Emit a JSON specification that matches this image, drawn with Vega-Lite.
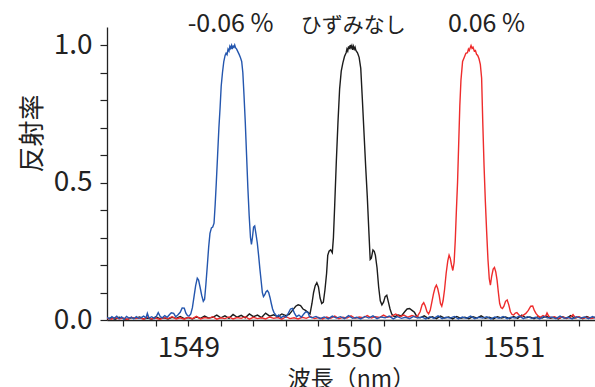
{
"$schema": "https://vega.github.io/schema/vega-lite/v6.json",
"width": 488, "height": 293,
"autosize": {"type": "none"},
"padding": {"left": 107, "top": 27, "right": 0, "bottom": 67},
"background": "white",
"config": {"view": {"stroke": null}, "font": "Noto Sans CJK JP"},
"resolve": {"axis": {"x": "independent", "y": "independent"}},
"datasets": {
"labels": [
{"label": "-0.06 %", "x": 1549.26, "y": 1.047},
{"label": "ひずみなし", "x": 1550.014, "y": 1.047},
{"label": "0.06 %", "x": 1550.833, "y": 1.047}
],
"spectra": [
{"s":"k","x":1548.500,"y":0.004},{"s":"k","x":1548.525,"y":0.008},{"s":"k","x":1548.550,"y":0.003},{"s":"k","x":1548.575,"y":0.010},
{"s":"k","x":1548.600,"y":0.005},{"s":"k","x":1548.625,"y":0.002},{"s":"k","x":1548.650,"y":0.009},{"s":"k","x":1548.675,"y":0.006},
{"s":"k","x":1548.700,"y":0.011},{"s":"k","x":1548.725,"y":0.004},{"s":"k","x":1548.750,"y":0.007},{"s":"k","x":1548.775,"y":0.003},
{"s":"k","x":1548.800,"y":0.012},{"s":"k","x":1548.825,"y":0.005},{"s":"k","x":1548.850,"y":0.008},{"s":"k","x":1548.875,"y":0.004},
{"s":"k","x":1548.900,"y":0.010},{"s":"k","x":1548.925,"y":0.006},{"s":"k","x":1548.950,"y":0.013},{"s":"k","x":1548.975,"y":0.005},
{"s":"k","x":1549.000,"y":0.009},{"s":"k","x":1549.025,"y":0.004},{"s":"k","x":1549.050,"y":0.011},{"s":"k","x":1549.075,"y":0.006},
{"s":"k","x":1549.100,"y":0.014},{"s":"k","x":1549.125,"y":0.007},{"s":"k","x":1549.150,"y":0.010},{"s":"k","x":1549.175,"y":0.018},
{"s":"k","x":1549.200,"y":0.008},{"s":"k","x":1549.225,"y":0.015},{"s":"k","x":1549.250,"y":0.006},{"s":"k","x":1549.275,"y":0.020},
{"s":"k","x":1549.300,"y":0.010},{"s":"k","x":1549.325,"y":0.017},{"s":"k","x":1549.350,"y":0.008},{"s":"k","x":1549.375,"y":0.022},
{"s":"k","x":1549.400,"y":0.012},{"s":"k","x":1549.425,"y":0.018},{"s":"k","x":1549.450,"y":0.009},{"s":"k","x":1549.475,"y":0.025},
{"s":"k","x":1549.500,"y":0.014},{"s":"k","x":1549.525,"y":0.019},{"s":"k","x":1549.550,"y":0.012},{"s":"k","x":1549.575,"y":0.022},
{"s":"k","x":1549.600,"y":0.016},{"s":"k","x":1549.620,"y":0.020},{"s":"k","x":1549.640,"y":0.035},{"s":"k","x":1549.660,"y":0.050},
{"s":"k","x":1549.675,"y":0.055},{"s":"k","x":1549.690,"y":0.052},{"s":"k","x":1549.705,"y":0.040},{"s":"k","x":1549.720,"y":0.035},
{"s":"k","x":1549.735,"y":0.028},{"s":"k","x":1549.748,"y":0.022},{"s":"k","x":1549.760,"y":0.060},{"s":"k","x":1549.770,"y":0.100},
{"s":"k","x":1549.780,"y":0.125},{"s":"k","x":1549.790,"y":0.136},{"s":"k","x":1549.800,"y":0.120},{"s":"k","x":1549.810,"y":0.080},
{"s":"k","x":1549.820,"y":0.060},{"s":"k","x":1549.830,"y":0.065},{"s":"k","x":1549.840,"y":0.110},{"s":"k","x":1549.850,"y":0.170},
{"s":"k","x":1549.857,"y":0.235},{"s":"k","x":1549.865,"y":0.250},{"s":"k","x":1549.875,"y":0.255},{"s":"k","x":1549.885,"y":0.245},
{"s":"k","x":1549.892,"y":0.300},{"s":"k","x":1549.900,"y":0.420},{"s":"k","x":1549.910,"y":0.580},{"s":"k","x":1549.920,"y":0.720},
{"s":"k","x":1549.930,"y":0.840},{"s":"k","x":1549.940,"y":0.905},{"s":"k","x":1549.950,"y":0.935},{"s":"k","x":1549.960,"y":0.958},
{"s":"k","x":1549.970,"y":0.972},{"s":"k","x":1549.975,"y":0.985},{"s":"k","x":1549.980,"y":0.978},{"s":"k","x":1549.985,"y":0.995},
{"s":"k","x":1549.990,"y":0.985},{"s":"k","x":1549.995,"y":1.000},{"s":"k","x":1550.000,"y":0.990},{"s":"k","x":1550.005,"y":0.998},
{"s":"k","x":1550.010,"y":0.982},{"s":"k","x":1550.015,"y":0.995},{"s":"k","x":1550.020,"y":0.985},{"s":"k","x":1550.025,"y":0.992},
{"s":"k","x":1550.030,"y":0.980},{"s":"k","x":1550.040,"y":0.972},{"s":"k","x":1550.050,"y":0.955},{"s":"k","x":1550.055,"y":0.935},
{"s":"k","x":1550.060,"y":0.915},{"s":"k","x":1550.070,"y":0.800},{"s":"k","x":1550.080,"y":0.680},{"s":"k","x":1550.090,"y":0.560},
{"s":"k","x":1550.100,"y":0.450},{"s":"k","x":1550.110,"y":0.320},{"s":"k","x":1550.118,"y":0.220},{"s":"k","x":1550.125,"y":0.225},
{"s":"k","x":1550.135,"y":0.255},{"s":"k","x":1550.143,"y":0.250},{"s":"k","x":1550.150,"y":0.235},{"s":"k","x":1550.160,"y":0.190},
{"s":"k","x":1550.170,"y":0.120},{"s":"k","x":1550.180,"y":0.070},{"s":"k","x":1550.190,"y":0.055},{"s":"k","x":1550.200,"y":0.065},
{"s":"k","x":1550.210,"y":0.085},{"s":"k","x":1550.220,"y":0.090},{"s":"k","x":1550.230,"y":0.065},{"s":"k","x":1550.240,"y":0.040},
{"s":"k","x":1550.250,"y":0.022},{"s":"k","x":1550.260,"y":0.015},{"s":"k","x":1550.270,"y":0.012},{"s":"k","x":1550.290,"y":0.018},
{"s":"k","x":1550.310,"y":0.015},{"s":"k","x":1550.330,"y":0.030},{"s":"k","x":1550.345,"y":0.040},{"s":"k","x":1550.360,"y":0.042},
{"s":"k","x":1550.375,"y":0.035},{"s":"k","x":1550.390,"y":0.028},{"s":"k","x":1550.405,"y":0.012},{"s":"k","x":1550.425,"y":0.008},
{"s":"k","x":1550.450,"y":0.015},{"s":"k","x":1550.475,"y":0.006},{"s":"k","x":1550.500,"y":0.012},{"s":"k","x":1550.525,"y":0.005},
{"s":"k","x":1550.550,"y":0.014},{"s":"k","x":1550.575,"y":0.007},{"s":"k","x":1550.600,"y":0.011},{"s":"k","x":1550.625,"y":0.004},
{"s":"k","x":1550.650,"y":0.013},{"s":"k","x":1550.675,"y":0.006},{"s":"k","x":1550.700,"y":0.010},{"s":"k","x":1550.725,"y":0.005},
{"s":"k","x":1550.750,"y":0.012},{"s":"k","x":1550.775,"y":0.007},{"s":"k","x":1550.800,"y":0.015},{"s":"k","x":1550.825,"y":0.006},
{"s":"k","x":1550.850,"y":0.010},{"s":"k","x":1550.875,"y":0.004},{"s":"k","x":1550.900,"y":0.012},{"s":"k","x":1550.925,"y":0.007},
{"s":"k","x":1550.950,"y":0.011},{"s":"k","x":1550.975,"y":0.005},{"s":"k","x":1551.000,"y":0.013},{"s":"k","x":1551.025,"y":0.006},
{"s":"k","x":1551.050,"y":0.018},{"s":"k","x":1551.075,"y":0.008},{"s":"k","x":1551.100,"y":0.011},{"s":"k","x":1551.125,"y":0.005},
{"s":"k","x":1551.150,"y":0.012},{"s":"k","x":1551.175,"y":0.007},{"s":"k","x":1551.200,"y":0.014},{"s":"k","x":1551.225,"y":0.006},
{"s":"k","x":1551.250,"y":0.010},{"s":"k","x":1551.275,"y":0.004},{"s":"k","x":1551.300,"y":0.012},{"s":"k","x":1551.325,"y":0.006},
{"s":"k","x":1551.350,"y":0.016},{"s":"k","x":1551.375,"y":0.007},{"s":"k","x":1551.400,"y":0.011},{"s":"k","x":1551.425,"y":0.005},
{"s":"k","x":1551.450,"y":0.013},{"s":"k","x":1551.475,"y":0.006},{"s":"k","x":1551.500,"y":0.010},

{"s":"r","x":1548.500,"y":0.006},{"s":"r","x":1548.525,"y":0.003},{"s":"r","x":1548.550,"y":0.009},{"s":"r","x":1548.575,"y":0.004},
{"s":"r","x":1548.600,"y":0.007},{"s":"r","x":1548.625,"y":0.002},{"s":"r","x":1548.650,"y":0.010},{"s":"r","x":1548.675,"y":0.005},
{"s":"r","x":1548.700,"y":0.008},{"s":"r","x":1548.725,"y":0.003},{"s":"r","x":1548.750,"y":0.011},{"s":"r","x":1548.775,"y":0.004},
{"s":"r","x":1548.800,"y":0.007},{"s":"r","x":1548.825,"y":0.002},{"s":"r","x":1548.850,"y":0.009},{"s":"r","x":1548.875,"y":0.005},
{"s":"r","x":1548.900,"y":0.012},{"s":"r","x":1548.925,"y":0.004},{"s":"r","x":1548.950,"y":0.008},{"s":"r","x":1548.975,"y":0.003},
{"s":"r","x":1549.000,"y":0.010},{"s":"r","x":1549.025,"y":0.005},{"s":"r","x":1549.050,"y":0.013},{"s":"r","x":1549.075,"y":0.004},
{"s":"r","x":1549.100,"y":0.009},{"s":"r","x":1549.125,"y":0.006},{"s":"r","x":1549.150,"y":0.012},{"s":"r","x":1549.175,"y":0.003},
{"s":"r","x":1549.200,"y":0.008},{"s":"r","x":1549.225,"y":0.005},{"s":"r","x":1549.250,"y":0.011},{"s":"r","x":1549.275,"y":0.004},
{"s":"r","x":1549.300,"y":0.009},{"s":"r","x":1549.325,"y":0.006},{"s":"r","x":1549.350,"y":0.012},{"s":"r","x":1549.375,"y":0.003},
{"s":"r","x":1549.400,"y":0.010},{"s":"r","x":1549.425,"y":0.005},{"s":"r","x":1549.450,"y":0.008},{"s":"r","x":1549.475,"y":0.004},
{"s":"r","x":1549.500,"y":0.011},{"s":"r","x":1549.525,"y":0.006},{"s":"r","x":1549.550,"y":0.009},{"s":"r","x":1549.575,"y":0.003},
{"s":"r","x":1549.600,"y":0.012},{"s":"r","x":1549.625,"y":0.005},{"s":"r","x":1549.650,"y":0.008},{"s":"r","x":1549.675,"y":0.004},
{"s":"r","x":1549.700,"y":0.010},{"s":"r","x":1549.725,"y":0.006},{"s":"r","x":1549.750,"y":0.013},{"s":"r","x":1549.775,"y":0.005},
{"s":"r","x":1549.800,"y":0.009},{"s":"r","x":1549.825,"y":0.004},{"s":"r","x":1549.850,"y":0.011},{"s":"r","x":1549.875,"y":0.006},
{"s":"r","x":1549.900,"y":0.014},{"s":"r","x":1549.925,"y":0.005},{"s":"r","x":1549.950,"y":0.010},{"s":"r","x":1549.975,"y":0.007},
{"s":"r","x":1550.000,"y":0.015},{"s":"r","x":1550.025,"y":0.006},{"s":"r","x":1550.050,"y":0.011},{"s":"r","x":1550.075,"y":0.008},
{"s":"r","x":1550.100,"y":0.016},{"s":"r","x":1550.125,"y":0.007},{"s":"r","x":1550.150,"y":0.012},{"s":"r","x":1550.175,"y":0.009},
{"s":"r","x":1550.200,"y":0.018},{"s":"r","x":1550.225,"y":0.010},{"s":"r","x":1550.250,"y":0.014},{"s":"r","x":1550.275,"y":0.022},
{"s":"r","x":1550.300,"y":0.012},{"s":"r","x":1550.325,"y":0.018},{"s":"r","x":1550.350,"y":0.010},{"s":"r","x":1550.375,"y":0.016},
{"s":"r","x":1550.395,"y":0.012},{"s":"r","x":1550.410,"y":0.015},{"s":"r","x":1550.425,"y":0.030},{"s":"r","x":1550.437,"y":0.055},
{"s":"r","x":1550.447,"y":0.063},{"s":"r","x":1550.457,"y":0.050},{"s":"r","x":1550.467,"y":0.030},{"s":"r","x":1550.477,"y":0.022},
{"s":"r","x":1550.487,"y":0.035},{"s":"r","x":1550.497,"y":0.065},{"s":"r","x":1550.507,"y":0.095},{"s":"r","x":1550.517,"y":0.118},
{"s":"r","x":1550.525,"y":0.127},{"s":"r","x":1550.533,"y":0.115},{"s":"r","x":1550.542,"y":0.090},{"s":"r","x":1550.550,"y":0.060},
{"s":"r","x":1550.558,"y":0.050},{"s":"r","x":1550.566,"y":0.070},{"s":"r","x":1550.575,"y":0.110},{"s":"r","x":1550.585,"y":0.170},
{"s":"r","x":1550.595,"y":0.215},{"s":"r","x":1550.603,"y":0.236},{"s":"r","x":1550.610,"y":0.225},{"s":"r","x":1550.618,"y":0.200},
{"s":"r","x":1550.626,"y":0.180},{"s":"r","x":1550.634,"y":0.210},{"s":"r","x":1550.641,"y":0.290},{"s":"r","x":1550.648,"y":0.400},
{"s":"r","x":1550.655,"y":0.500},{"s":"r","x":1550.662,"y":0.640},{"s":"r","x":1550.669,"y":0.780},{"s":"r","x":1550.676,"y":0.873},
{"s":"r","x":1550.686,"y":0.940},{"s":"r","x":1550.696,"y":0.955},{"s":"r","x":1550.706,"y":0.970},{"s":"r","x":1550.716,"y":0.972},
{"s":"r","x":1550.722,"y":0.985},{"s":"r","x":1550.727,"y":0.980},{"s":"r","x":1550.733,"y":0.990},{"s":"r","x":1550.738,"y":0.998},
{"s":"r","x":1550.744,"y":0.988},{"s":"r","x":1550.750,"y":0.992},{"s":"r","x":1550.758,"y":0.978},{"s":"r","x":1550.765,"y":0.980},
{"s":"r","x":1550.772,"y":0.966},{"s":"r","x":1550.779,"y":0.962},{"s":"r","x":1550.787,"y":0.950},{"s":"r","x":1550.795,"y":0.930},
{"s":"r","x":1550.803,"y":0.880},{"s":"r","x":1550.810,"y":0.720},{"s":"r","x":1550.818,"y":0.560},{"s":"r","x":1550.826,"y":0.430},
{"s":"r","x":1550.834,"y":0.320},{"s":"r","x":1550.842,"y":0.220},{"s":"r","x":1550.850,"y":0.150},{"s":"r","x":1550.857,"y":0.127},
{"s":"r","x":1550.865,"y":0.160},{"s":"r","x":1550.874,"y":0.185},{"s":"r","x":1550.882,"y":0.191},{"s":"r","x":1550.890,"y":0.175},
{"s":"r","x":1550.898,"y":0.145},{"s":"r","x":1550.906,"y":0.100},{"s":"r","x":1550.914,"y":0.060},{"s":"r","x":1550.922,"y":0.045},
{"s":"r","x":1550.931,"y":0.042},{"s":"r","x":1550.940,"y":0.050},{"s":"r","x":1550.950,"y":0.068},{"s":"r","x":1550.960,"y":0.073},
{"s":"r","x":1550.970,"y":0.055},{"s":"r","x":1550.980,"y":0.030},{"s":"r","x":1550.990,"y":0.020},{"s":"r","x":1551.000,"y":0.018},
{"s":"r","x":1551.010,"y":0.025},{"s":"r","x":1551.020,"y":0.027},{"s":"r","x":1551.030,"y":0.020},{"s":"r","x":1551.045,"y":0.012},
{"s":"r","x":1551.060,"y":0.018},{"s":"r","x":1551.075,"y":0.024},{"s":"r","x":1551.090,"y":0.035},{"s":"r","x":1551.105,"y":0.050},
{"s":"r","x":1551.117,"y":0.051},{"s":"r","x":1551.127,"y":0.035},{"s":"r","x":1551.137,"y":0.024},{"s":"r","x":1551.150,"y":0.015},
{"s":"r","x":1551.165,"y":0.010},{"s":"r","x":1551.180,"y":0.016},{"s":"r","x":1551.195,"y":0.012},{"s":"r","x":1551.205,"y":0.026},
{"s":"r","x":1551.215,"y":0.014},{"s":"r","x":1551.230,"y":0.008},{"s":"r","x":1551.250,"y":0.012},{"s":"r","x":1551.275,"y":0.006},
{"s":"r","x":1551.300,"y":0.011},{"s":"r","x":1551.325,"y":0.007},{"s":"r","x":1551.350,"y":0.010},{"s":"r","x":1551.365,"y":0.020},
{"s":"r","x":1551.380,"y":0.008},{"s":"r","x":1551.400,"y":0.012},{"s":"r","x":1551.425,"y":0.006},{"s":"r","x":1551.450,"y":0.010},
{"s":"r","x":1551.475,"y":0.005},{"s":"r","x":1551.500,"y":0.009},

{"s":"b","x":1548.500,"y":0.010},{"s":"b","x":1548.515,"y":0.004},{"s":"b","x":1548.530,"y":0.012},{"s":"b","x":1548.545,"y":0.006},
{"s":"b","x":1548.560,"y":0.014},{"s":"b","x":1548.575,"y":0.005},{"s":"b","x":1548.590,"y":0.011},{"s":"b","x":1548.605,"y":0.003},
{"s":"b","x":1548.620,"y":0.013},{"s":"b","x":1548.635,"y":0.007},{"s":"b","x":1548.650,"y":0.010},{"s":"b","x":1548.665,"y":0.004},
{"s":"b","x":1548.680,"y":0.012},{"s":"b","x":1548.695,"y":0.006},{"s":"b","x":1548.710,"y":0.009},{"s":"b","x":1548.725,"y":0.014},
{"s":"b","x":1548.740,"y":0.008},{"s":"b","x":1548.748,"y":0.024},{"s":"b","x":1548.758,"y":0.007},{"s":"b","x":1548.775,"y":0.012},
{"s":"b","x":1548.790,"y":0.005},{"s":"b","x":1548.805,"y":0.015},{"s":"b","x":1548.815,"y":0.027},{"s":"b","x":1548.828,"y":0.012},
{"s":"b","x":1548.840,"y":0.008},{"s":"b","x":1548.855,"y":0.016},{"s":"b","x":1548.870,"y":0.010},{"s":"b","x":1548.885,"y":0.020},
{"s":"b","x":1548.895,"y":0.026},{"s":"b","x":1548.910,"y":0.024},{"s":"b","x":1548.922,"y":0.012},{"s":"b","x":1548.935,"y":0.018},
{"s":"b","x":1548.950,"y":0.028},{"s":"b","x":1548.962,"y":0.044},{"s":"b","x":1548.975,"y":0.043},{"s":"b","x":1548.985,"y":0.025},
{"s":"b","x":1548.995,"y":0.016},{"s":"b","x":1549.005,"y":0.015},{"s":"b","x":1549.015,"y":0.022},{"s":"b","x":1549.025,"y":0.045},
{"s":"b","x":1549.035,"y":0.085},{"s":"b","x":1549.045,"y":0.125},{"s":"b","x":1549.055,"y":0.152},{"s":"b","x":1549.063,"y":0.145},
{"s":"b","x":1549.072,"y":0.120},{"s":"b","x":1549.082,"y":0.090},{"s":"b","x":1549.092,"y":0.068},{"s":"b","x":1549.100,"y":0.075},
{"s":"b","x":1549.108,"y":0.130},{"s":"b","x":1549.117,"y":0.200},{"s":"b","x":1549.125,"y":0.265},{"s":"b","x":1549.133,"y":0.315},
{"s":"b","x":1549.142,"y":0.335},{"s":"b","x":1549.150,"y":0.338},{"s":"b","x":1549.158,"y":0.352},{"s":"b","x":1549.165,"y":0.420},
{"s":"b","x":1549.172,"y":0.500},{"s":"b","x":1549.180,"y":0.600},{"s":"b","x":1549.188,"y":0.700},{"s":"b","x":1549.195,"y":0.770},
{"s":"b","x":1549.202,"y":0.850},{"s":"b","x":1549.210,"y":0.900},{"s":"b","x":1549.218,"y":0.940},{"s":"b","x":1549.226,"y":0.962},
{"s":"b","x":1549.232,"y":0.970},{"s":"b","x":1549.238,"y":0.965},{"s":"b","x":1549.244,"y":0.985},{"s":"b","x":1549.250,"y":0.978},
{"s":"b","x":1549.255,"y":0.995},{"s":"b","x":1549.260,"y":0.988},{"s":"b","x":1549.265,"y":0.998},{"s":"b","x":1549.270,"y":0.985},
{"s":"b","x":1549.275,"y":0.996},{"s":"b","x":1549.280,"y":0.992},{"s":"b","x":1549.285,"y":1.000},{"s":"b","x":1549.290,"y":0.990},
{"s":"b","x":1549.297,"y":0.985},{"s":"b","x":1549.305,"y":0.975},{"s":"b","x":1549.313,"y":0.965},{"s":"b","x":1549.320,"y":0.955},
{"s":"b","x":1549.328,"y":0.940},{"s":"b","x":1549.335,"y":0.900},{"s":"b","x":1549.342,"y":0.820},{"s":"b","x":1549.350,"y":0.720},
{"s":"b","x":1549.358,"y":0.600},{"s":"b","x":1549.366,"y":0.480},{"s":"b","x":1549.374,"y":0.380},{"s":"b","x":1549.382,"y":0.300},
{"s":"b","x":1549.388,"y":0.275},{"s":"b","x":1549.394,"y":0.300},{"s":"b","x":1549.401,"y":0.338},{"s":"b","x":1549.408,"y":0.342},
{"s":"b","x":1549.416,"y":0.312},{"s":"b","x":1549.424,"y":0.280},{"s":"b","x":1549.432,"y":0.235},{"s":"b","x":1549.440,"y":0.185},
{"s":"b","x":1549.448,"y":0.140},{"s":"b","x":1549.455,"y":0.100},{"s":"b","x":1549.462,"y":0.085},{"s":"b","x":1549.470,"y":0.092},
{"s":"b","x":1549.478,"y":0.103},{"s":"b","x":1549.486,"y":0.107},{"s":"b","x":1549.494,"y":0.100},{"s":"b","x":1549.502,"y":0.082},
{"s":"b","x":1549.510,"y":0.060},{"s":"b","x":1549.518,"y":0.040},{"s":"b","x":1549.526,"y":0.028},{"s":"b","x":1549.535,"y":0.020},
{"s":"b","x":1549.545,"y":0.012},{"s":"b","x":1549.555,"y":0.018},{"s":"b","x":1549.570,"y":0.008},{"s":"b","x":1549.585,"y":0.015},
{"s":"b","x":1549.600,"y":0.010},{"s":"b","x":1549.615,"y":0.025},{"s":"b","x":1549.628,"y":0.040},{"s":"b","x":1549.640,"y":0.042},
{"s":"b","x":1549.652,"y":0.025},{"s":"b","x":1549.665,"y":0.012},{"s":"b","x":1549.680,"y":0.018},{"s":"b","x":1549.695,"y":0.010},
{"s":"b","x":1549.710,"y":0.022},{"s":"b","x":1549.722,"y":0.030},{"s":"b","x":1549.735,"y":0.028},{"s":"b","x":1549.745,"y":0.012},
{"s":"b","x":1549.760,"y":0.008},{"s":"b","x":1549.785,"y":0.013},{"s":"b","x":1549.810,"y":0.005},{"s":"b","x":1549.835,"y":0.011},
{"s":"b","x":1549.860,"y":0.004},{"s":"b","x":1549.885,"y":0.014},{"s":"b","x":1549.910,"y":0.007},{"s":"b","x":1549.935,"y":0.012},
{"s":"b","x":1549.960,"y":0.005},{"s":"b","x":1549.985,"y":0.016},{"s":"b","x":1550.010,"y":0.006},{"s":"b","x":1550.035,"y":0.010},
{"s":"b","x":1550.060,"y":0.004},{"s":"b","x":1550.085,"y":0.013},{"s":"b","x":1550.110,"y":0.007},{"s":"b","x":1550.135,"y":0.015},
{"s":"b","x":1550.160,"y":0.005},{"s":"b","x":1550.185,"y":0.011},{"s":"b","x":1550.210,"y":0.008},{"s":"b","x":1550.235,"y":0.014},
{"s":"b","x":1550.260,"y":0.004},{"s":"b","x":1550.285,"y":0.012},{"s":"b","x":1550.310,"y":0.006},{"s":"b","x":1550.335,"y":0.010},
{"s":"b","x":1550.360,"y":0.005},{"s":"b","x":1550.385,"y":0.013},{"s":"b","x":1550.410,"y":0.007},{"s":"b","x":1550.435,"y":0.011},
{"s":"b","x":1550.460,"y":0.004},{"s":"b","x":1550.485,"y":0.012},{"s":"b","x":1550.510,"y":0.006},{"s":"b","x":1550.535,"y":0.015},
{"s":"b","x":1550.560,"y":0.005},{"s":"b","x":1550.585,"y":0.010},{"s":"b","x":1550.610,"y":0.007},{"s":"b","x":1550.635,"y":0.013},
{"s":"b","x":1550.660,"y":0.004},{"s":"b","x":1550.685,"y":0.011},{"s":"b","x":1550.710,"y":0.006},{"s":"b","x":1550.735,"y":0.014},
{"s":"b","x":1550.760,"y":0.005},{"s":"b","x":1550.785,"y":0.010},{"s":"b","x":1550.810,"y":0.007},{"s":"b","x":1550.835,"y":0.012},
{"s":"b","x":1550.860,"y":0.004},{"s":"b","x":1550.885,"y":0.011},{"s":"b","x":1550.910,"y":0.006},{"s":"b","x":1550.935,"y":0.013},
{"s":"b","x":1550.960,"y":0.005},{"s":"b","x":1550.985,"y":0.010},{"s":"b","x":1551.010,"y":0.007},{"s":"b","x":1551.035,"y":0.014},
{"s":"b","x":1551.060,"y":0.005},{"s":"b","x":1551.085,"y":0.012},{"s":"b","x":1551.110,"y":0.006},{"s":"b","x":1551.135,"y":0.010},
{"s":"b","x":1551.160,"y":0.004},{"s":"b","x":1551.185,"y":0.013},{"s":"b","x":1551.210,"y":0.007},{"s":"b","x":1551.235,"y":0.011},
{"s":"b","x":1551.260,"y":0.005},{"s":"b","x":1551.285,"y":0.014},{"s":"b","x":1551.310,"y":0.006},{"s":"b","x":1551.335,"y":0.010},
{"s":"b","x":1551.360,"y":0.004},{"s":"b","x":1551.385,"y":0.012},{"s":"b","x":1551.410,"y":0.007},{"s":"b","x":1551.435,"y":0.011},
{"s":"b","x":1551.460,"y":0.005},{"s":"b","x":1551.485,"y":0.013},{"s":"b","x":1551.500,"y":0.008}
]
},
"layer": [
{
"data": {"name": "spectra"},
"mark": {"type": "line", "strokeWidth": 1.4, "clip": true},
"encoding": {
"x": {"field": "x", "type": "quantitative",
 "scale": {"domain": [1548.5, 1551.5], "nice": false, "zero": false},
 "axis": {"orient": "bottom", "values": [1548.6,1548.8,1549,1549.2,1549.4,1549.6,1549.8,1550,1550.2,1550.4,1550.6,1550.8,1551,1551.2,1551.4],
  "labels": false, "grid": false, "tickSize": 6, "tickWidth": 1.2, "tickColor": "#222", "domainColor": "#222", "domainWidth": 1.3,
  "title": "波長（nm）", "titleFontSize": 23, "titleFontWeight": "normal", "titleColor": "#222",
  "titleY": 66, "titleBaseline": "alphabetic"}},
"y": {"field": "y", "type": "quantitative",
 "scale": {"domain": [0, 1.0655], "nice": false},
 "axis": {"orient": "left", "values": [0,0.1,0.2,0.3,0.4,0.5,0.6,0.7,0.8,0.9,1],
  "labels": false, "grid": false, "tickSize": 7, "tickWidth": 1.2, "tickColor": "#222", "domainColor": "#222", "domainWidth": 1.3,
  "title": "反射率", "titleFontSize": 26, "titleFontWeight": "normal", "titleColor": "#222",
  "titleX": -75, "titleY": 106, "titleBaseline": "middle", "titleAlign": "center", "titleAngle": -90}},
"color": {"field": "s", "type": "nominal", "scale": {"domain": ["k","r","b"], "range": ["#1c1c1c","#ee2c2c","#2456ae"]}, "legend": null}
}
},
{
"data": {"name": "labels"},
"transform": [{"filter": "datum.label !== 'ひずみなし'"}],
"mark": {"type": "text", "baseline": "alphabetic", "align": "center", "color": "#222", "fontSize": 25},
"encoding": {
"x": {"field": "x", "type": "quantitative",
 "scale": {"domain": [1548.5, 1551.5], "nice": false, "zero": false},
 "axis": {"orient": "bottom", "values": [1549, 1550, 1551], "format": "d", "ticks": false, "tickSize": 0, "domain": false, "grid": false,
  "labelFontSize": 28, "labelColor": "#222", "labelPadding": 14, "labelFlush": false, "labelOverlap": false, "title": null}},
"y": {"field": "y", "type": "quantitative",
 "scale": {"domain": [0, 1.0655], "nice": false},
 "axis": {"orient": "left", "values": [0, 0.5, 1], "format": ".1f", "ticks": false, "tickSize": 0, "domain": false, "grid": false,
  "labelFontSize": 28, "labelColor": "#222", "labelPadding": 15, "labelOverlap": false, "title": null}},
"text": {"field": "label"}
}
},
{
"data": {"name": "labels"},
"transform": [{"filter": "datum.label === 'ひずみなし'"}],
"mark": {"type": "text", "baseline": "alphabetic", "align": "center", "color": "#222", "fontSize": 21},
"encoding": {
"x": {"field": "x", "type": "quantitative", "scale": {"domain": [1548.5, 1551.5], "nice": false, "zero": false}, "axis": null},
"y": {"field": "y", "type": "quantitative", "scale": {"domain": [0, 1.0655], "nice": false}, "axis": null},
"text": {"field": "label"}
}
}
]
}
